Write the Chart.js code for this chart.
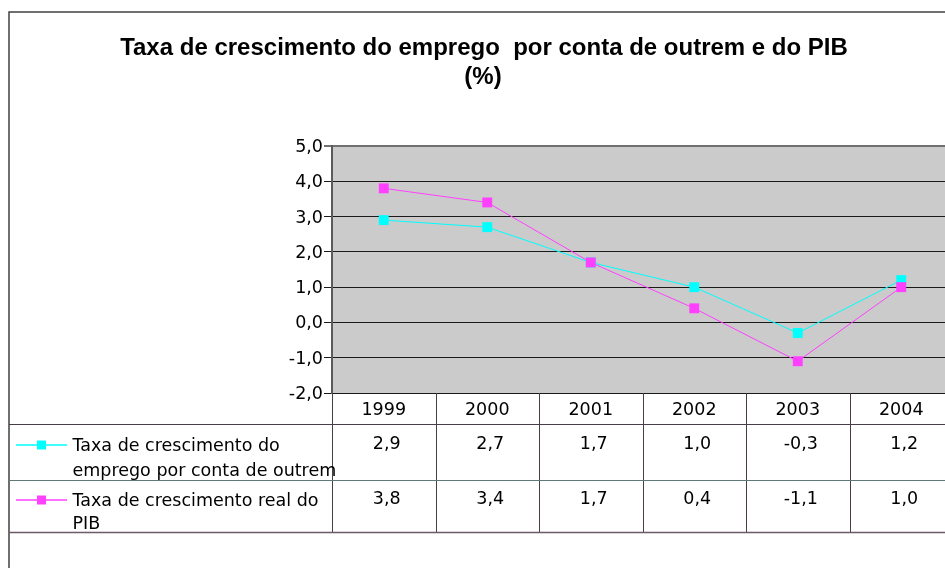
<!DOCTYPE html>
<html>
<head>
<meta charset="utf-8">
<script src="https://cdn.jsdelivr.net/npm/chart.js@4.4.1/dist/chart.umd.min.js"></script>
<style>
  html, body { margin: 0; padding: 0; background: #fff; overflow: hidden; }
  #wrap { position: relative; width: 960px; height: 568px; }
</style>
</head>
<body>
<div id="wrap"><canvas id="chart"></canvas></div>
<script>
// dados
const anos = ['1999', '2000', '2001', '2002', '2003', '2004'];
const empregoOutrem = [2.9, 2.7, 1.7, 1.0, -0.3, 1.2];
const pibReal = [3.8, 3.4, 1.7, 0.4, -1.1, 1.0];
const nomesSeries = [
  ['Taxa de crescimento do', 'emprego por conta de outrem'],
  ['Taxa de crescimento real do', 'PIB']
];
const titulo = ['Taxa de crescimento do emprego  por conta de outrem e do PIB', '(%)'];
const yMin = -2, yMax = 5, yPasso = 1;

const fmt = v => Number(v).toFixed(1).replace('.', ',');
const FONTE = '"DejaVu Sans", Verdana, sans-serif';

/* ==== fundo cinzento da área de desenho ==== */
const fundo = {
  id: 'fundo',
  beforeDraw(chart) {
    const { ctx, chartArea: a } = chart;
    ctx.save();
    ctx.fillStyle = '#fff';
    ctx.fillRect(0, 0, chart.width, chart.height);
    ctx.fillStyle = '#CBCBCB';
    ctx.fillRect(a.left, a.top, a.right - a.left, a.bottom - a.top);
    ctx.restore();
  }
};

/* ==== título, moldura e tabela de dados ==== */
const tabela = {
  id: 'tabela',
  afterDraw(chart) {
    const { ctx, chartArea: a } = chart;
    const n = anos.length;
    const colW = (a.right - a.left) / n;
    const yHead = a.bottom, yRow1 = 424.5, yRow2 = 480.5, yFim = 532.5;
    const xEsq = 9;

    ctx.save();

    // título
    ctx.fillStyle = '#000';
    ctx.textAlign = 'center';
    ctx.textBaseline = 'middle';
    ctx.font = 'bold 24px "Liberation Sans", Arial, sans-serif';
    ctx.fillText(titulo[0], 484, 48);
    ctx.fillText(titulo[1], 483, 77);

    // moldura exterior
    ctx.strokeStyle = '#404040';
    ctx.lineWidth = 1.5;
    ctx.beginPath();
    ctx.moveTo(xEsq, chart.height);
    ctx.lineTo(xEsq, 12);
    ctx.lineTo(chart.width, 12);
    ctx.stroke();

    // linhas da tabela
    ctx.lineWidth = 1;
    ctx.strokeStyle = '#4a3d4a';
    ctx.beginPath();
    ctx.moveTo(xEsq, yRow1); ctx.lineTo(a.right, yRow1);
    for (let i = 0; i <= n; i++) {
      const x = Math.round(a.left + i * colW) + 0.5;
      ctx.moveTo(x, yHead); ctx.lineTo(x, yFim);
    }
    ctx.stroke();
    ctx.strokeStyle = '#5f7878';
    ctx.beginPath();
    ctx.moveTo(xEsq, yRow2); ctx.lineTo(a.right, yRow2);
    ctx.stroke();
    ctx.strokeStyle = '#6a5a6a';
    ctx.lineWidth = 1.5;
    ctx.beginPath();
    ctx.moveTo(xEsq, yFim); ctx.lineTo(a.right, yFim);
    ctx.stroke();

    // anos e valores
    ctx.font = '17.5px ' + FONTE;
    ctx.fillStyle = '#000';
    ctx.textAlign = 'center';
    const xs = chart.scales.x;
    const linhasY = [444, 499];
    anos.forEach((ano, i) => {
      const cx = xs.getPixelForTick(i);
      ctx.fillText(ano, cx, 410.5);
    });
    chart.data.datasets.forEach((ds, k) => {
      ds.data.forEach((v, i) => {
        const cx = xs.getPixelForTick(i) + 3;
        ctx.fillText(fmt(v), cx, linhasY[k]);
      });
    });

    // legenda dentro da tabela
    const legY = [[446.5, 471.5], [501.5, 524]];
    ctx.textAlign = 'left';
    chart.data.datasets.forEach((ds, k) => {
      const my = legY[k][0] - 1.5;
      ctx.strokeStyle = ds.borderColor;
      ctx.lineWidth = 1.5;
      ctx.beginPath();
      ctx.moveTo(16, my); ctx.lineTo(67, my);
      ctx.stroke();
      ctx.fillStyle = ds.backgroundColor;
      ctx.fillRect(37, my - 4.5, 9, 9);
      ctx.fillStyle = '#000';
      nomesSeries[k].forEach((t, j) => ctx.fillText(t, 72.5, legY[k][j]));
    });

    ctx.restore();
  }
};

new Chart(document.getElementById('chart'), {
  type: 'line',
  data: {
    labels: anos,
    datasets: [
      {
        label: nomesSeries[0].join(' '),
        data: empregoOutrem,
        borderColor: '#00FFFF',
        backgroundColor: '#00FFFF',
        borderWidth: 1,
        pointStyle: 'rect',
        pointRadius: 7,
        pointBorderWidth: 0,
        order: 2
      },
      {
        label: nomesSeries[1].join(' '),
        data: pibReal,
        borderColor: '#FF40FF',
        backgroundColor: '#FF40FF',
        borderWidth: 1,
        pointStyle: 'rect',
        pointRadius: 7,
        pointBorderWidth: 0,
        order: 1
      }
    ]
  },
  options: {
    responsive: true,
    maintainAspectRatio: false,
    animation: false,
    events: [],
    layout: { padding: { top: 146, bottom: 175, left: 0, right: 7 } },
    plugins: {
      legend: { display: false },
      tooltip: { enabled: false },
      title: { display: false }
    },
    scales: {
      x: { type: 'category', offset: true, display: false },
      y: {
        min: yMin,
        max: yMax,
        afterFit: s => { s.width = 332; },
        ticks: {
          stepSize: yPasso,
          padding: 1,
          labelOffset: 1.5,
          color: '#000',
          font: { family: FONTE, size: 17.5 },
          callback: v => fmt(v)
        },
        grid: {
          tickLength: 8,
          color: c => c.tick && c.tick.value === yMax ? '#707070' : '#1a1a1a',
          lineWidth: c => c.tick && c.tick.value === yMax ? 2 : 1
        },
        border: { color: '#5a5a5a', width: 2 }
      }
    }
  },
  plugins: [fundo, tabela]
});
</script>
</body>
</html>
